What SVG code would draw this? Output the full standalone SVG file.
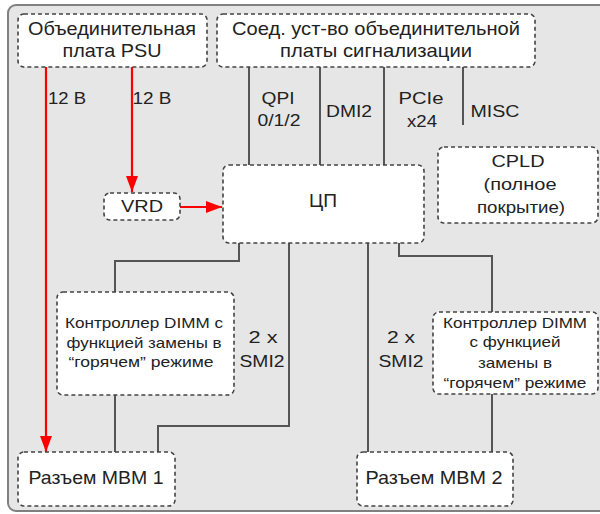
<svg xmlns="http://www.w3.org/2000/svg" width="600" height="514" viewBox="0 0 600 514">
  <defs>
    <marker id="redArrow" viewBox="0 0 16 12" refX="16" refY="6" markerWidth="16" markerHeight="12" orient="auto" markerUnits="userSpaceOnUse">
      <path d="M0,0 L16,6 L0,12 Z" fill="#ff0000"/>
    </marker>
    <style>
      .frame { fill: #e6e6e6; stroke: #808080; stroke-width: 2; }
      .node { fill: #ffffff; stroke: #444444; stroke-width: 1.6; stroke-dasharray: 4 3; }
      .wire { fill: none; stroke: #555555; stroke-width: 2; }
      .power { fill: none; stroke: #ff0000; stroke-width: 2.2; }
      text { font-family: "Liberation Sans", Arial, sans-serif; fill: #222222; text-anchor: middle; }
      .big { font-size: 19px; }
      .mid { font-size: 16px; }
      .small { font-size: 15px; }
    </style>
  </defs>

  <!-- board outline -->
  <rect class="frame" x="8" y="5" width="600" height="506" rx="8"/>

  <!-- connectors -->
  <g id="connectors">
    <!-- signal lines from the signaling backplane connector -->
    <line class="wire" x1="249" y1="67" x2="249" y2="165"/>
    <line class="wire" x1="320" y1="67" x2="320" y2="165"/>
    <line class="wire" x1="384" y1="67" x2="384" y2="165"/>
    <line class="wire" x1="463" y1="67" x2="463" y2="125"/>
    <!-- CPU to memory -->
    <polyline class="wire" points="239,243 239,261 115,261 115,292"/>
    <line class="wire" x1="115" y1="395" x2="115" y2="452"/>
    <polyline class="wire" points="289,243 289,426 158,426 158,452"/>
    <line class="wire" x1="368" y1="243" x2="368" y2="452"/>
    <polyline class="wire" points="399,243 399,256 492,256 492,312"/>
    <line class="wire" x1="492" y1="394" x2="492" y2="452"/>
    <!-- 12 V power -->
    <line class="power" x1="46" y1="67" x2="46" y2="452" marker-end="url(#redArrow)"/>
    <line class="power" x1="132" y1="67" x2="132" y2="192" marker-end="url(#redArrow)"/>
    <line class="power" x1="180" y1="207" x2="222" y2="207" marker-end="url(#redArrow)"/>
  </g>

  <!-- link labels -->
  <g id="labels">
    <text class="mid" x="67" y="104" textLength="38" lengthAdjust="spacingAndGlyphs">12 В</text>
    <text class="mid" x="152" y="104" textLength="39" lengthAdjust="spacingAndGlyphs">12 В</text>
    <text class="mid" x="278" y="104" textLength="33" lengthAdjust="spacingAndGlyphs">QPI</text>
    <text class="mid" x="279" y="126" textLength="43" lengthAdjust="spacingAndGlyphs">0/1/2</text>
    <text class="mid" x="349" y="117" textLength="46" lengthAdjust="spacingAndGlyphs">DMI2</text>
    <text class="mid" x="421" y="104" textLength="45" lengthAdjust="spacingAndGlyphs">PCIe</text>
    <text class="mid" x="422" y="127" textLength="30" lengthAdjust="spacingAndGlyphs">x24</text>
    <text class="mid" x="495" y="117" textLength="49" lengthAdjust="spacingAndGlyphs">MISC</text>
    <text class="mid" x="263" y="343" textLength="29" lengthAdjust="spacingAndGlyphs">2 x</text>
    <text class="mid" x="262" y="367" textLength="45" lengthAdjust="spacingAndGlyphs">SMI2</text>
    <text class="mid" x="401" y="343" textLength="28" lengthAdjust="spacingAndGlyphs">2 x</text>
    <text class="mid" x="401" y="367" textLength="45" lengthAdjust="spacingAndGlyphs">SMI2</text>
  </g>

  <g id="psu">
    <rect class="node" x="18" y="14" width="189" height="53" rx="6"/>
    <text class="big" x="112" y="35" textLength="168" lengthAdjust="spacingAndGlyphs">Объединительная</text>
    <text class="big" x="112" y="57" textLength="99" lengthAdjust="spacingAndGlyphs">плата PSU</text>
  </g>

  <g id="signal-board">
    <rect class="node" x="217" y="14" width="318" height="53" rx="6"/>
    <text class="big" x="376" y="35" textLength="288" lengthAdjust="spacingAndGlyphs">Соед. уст-во объединительной</text>
    <text class="big" x="376" y="57" textLength="192" lengthAdjust="spacingAndGlyphs">платы сигнализации</text>
  </g>

  <g id="vrd">
    <rect class="node" x="104" y="193" width="76" height="27" rx="6"/>
    <text class="mid" x="142" y="212" textLength="42" lengthAdjust="spacingAndGlyphs">VRD</text>
  </g>

  <g id="cpu">
    <rect class="node" x="223" y="165" width="201" height="78" rx="6"/>
    <text class="big" x="323" y="207" textLength="28" lengthAdjust="spacingAndGlyphs">ЦП</text>
  </g>

  <g id="cpld">
    <rect class="node" x="438" y="147" width="160" height="76" rx="6"/>
    <text class="mid" x="518" y="167" textLength="53" lengthAdjust="spacingAndGlyphs">CPLD</text>
    <text class="mid" x="520" y="190" textLength="73" lengthAdjust="spacingAndGlyphs">(полное</text>
    <text class="mid" x="521" y="213" textLength="88" lengthAdjust="spacingAndGlyphs">покрытие)</text>
  </g>

  <g id="dimm-1">
    <rect class="node" x="57" y="292" width="177" height="103" rx="6"/>
    <text class="small" x="144" y="328" textLength="158" lengthAdjust="spacingAndGlyphs">Контроллер DIMM с</text>
    <text class="small" x="144" y="348" textLength="155" lengthAdjust="spacingAndGlyphs">функцией замены в</text>
    <text class="small" x="141" y="367" textLength="145" lengthAdjust="spacingAndGlyphs">“горячем” режиме</text>
  </g>

  <g id="dimm-2">
    <rect class="node" x="433" y="312" width="165" height="82" rx="6"/>
    <text class="small" x="515" y="328" textLength="144" lengthAdjust="spacingAndGlyphs">Контроллер DIMM</text>
    <text class="small" x="515" y="347" textLength="91" lengthAdjust="spacingAndGlyphs">с функцией</text>
    <text class="small" x="515" y="368" textLength="74" lengthAdjust="spacingAndGlyphs">замены в</text>
    <text class="small" x="515" y="388" textLength="143" lengthAdjust="spacingAndGlyphs">“горячем” режиме</text>
  </g>

  <g id="mbm-1">
    <rect class="node" x="18" y="452" width="157" height="54" rx="6"/>
    <text class="big" x="96" y="484" textLength="135" lengthAdjust="spacingAndGlyphs">Разъем MBM 1</text>
  </g>

  <g id="mbm-2">
    <rect class="node" x="357" y="452" width="156" height="54" rx="6"/>
    <text class="big" x="434" y="484" textLength="137" lengthAdjust="spacingAndGlyphs">Разъем MBM 2</text>
  </g>
</svg>
